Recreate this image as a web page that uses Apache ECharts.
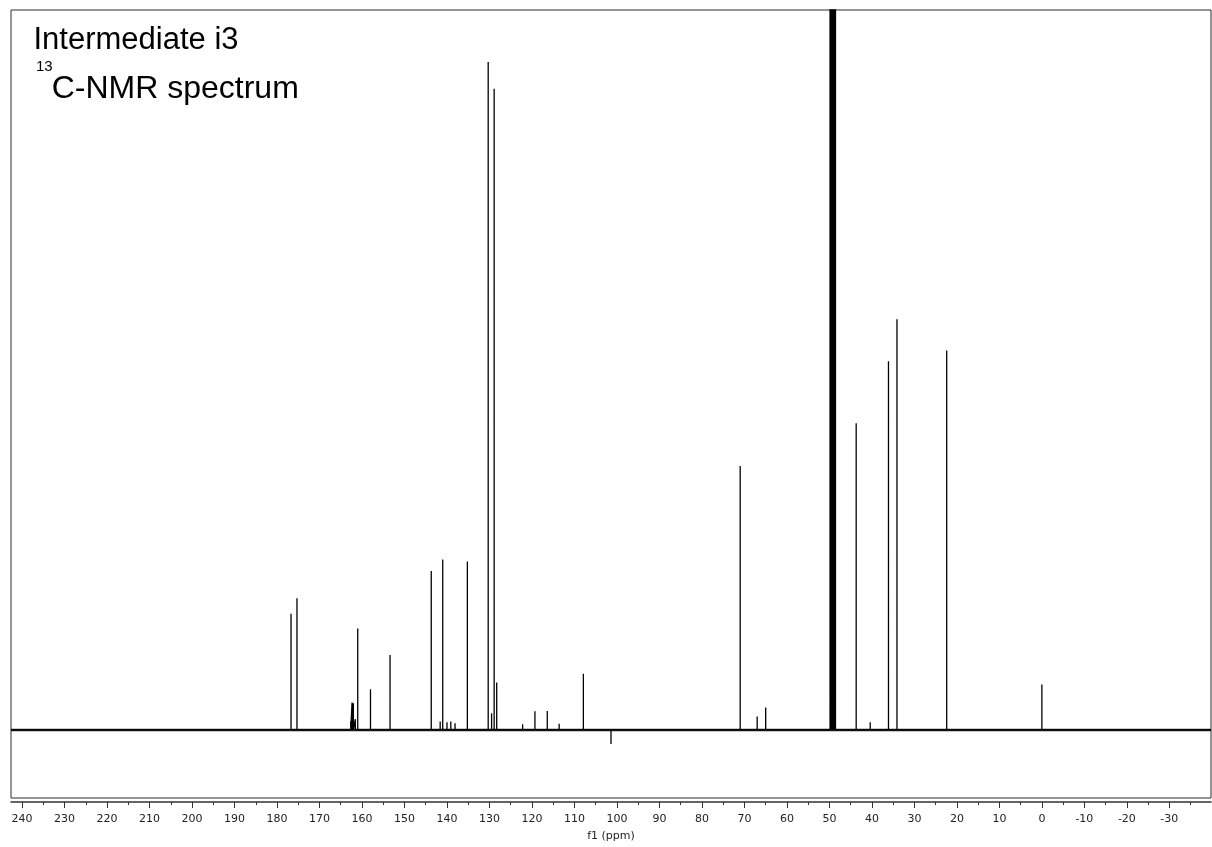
<!DOCTYPE html>
<html>
<head>
<meta charset="utf-8">
<title>Intermediate i3 13C-NMR</title>
<script src="https://cdn.jsdelivr.net/npm/echarts@6/dist/echarts.min.js"></script>
<style>
  html, body { margin: 0; padding: 0; background: #fff; }
  #chart { width: 1212px; height: 847px; }
</style>
</head>
<body>
<div id="chart"></div>
<script>
// Resolved signals: chemical shift (ppm) and relative intensity (130.3 ppm line = 100)
const peakPpm = [
  176.7, 175.3, 162.65, 162.34, 162.03, 161.56, 161.0, 158.0, 153.4,
  143.7, 141.6, 141.0, 140.0, 139.1, 138.1, 135.2, 130.3, 129.5, 128.9,
  128.3, 122.2, 119.3, 116.4, 113.6, 107.9, 101.4, 71.0, 67.0, 65.0,
  43.7, 40.4, 36.1, 34.1, 22.4, 0.0
];
const peakHeight = [
  17.4, 19.7, 1.3, 4.1, 4.0, 1.6, 15.2, 6.1, 11.2,
  23.8, 1.25, 25.5, 1.15, 1.25, 1.0, 25.2, 100, 2.5, 96.0,
  7.1, 0.85, 2.8, 2.84, 0.9, 8.4, -2.1, 39.5, 2.0, 3.35,
  45.9, 1.15, 55.2, 61.5, 56.8, 6.8
];

// CD3OD solvent septet (runs far off scale)
const solventPpm = [49.85, 49.64, 49.43, 49.21, 49.00, 48.79, 48.57];
const solventHeight = [150, 450, 900, 1050, 900, 450, 150];

// Axis ticks (ppm)
const majorTicks = [240, 230, 220, 210, 200, 190, 180, 170, 160, 150, 140, 130, 120, 110, 100,
                    90, 80, 70, 60, 50, 40, 30, 20, 10, 0, -10, -20, -30];
const minorTicks = [235, 225, 215, 205, 195, 185, 175, 165, 155, 145, 135, 125, 115, 105,
                    95, 85, 75, 65, 55, 45, 35, 25, 15, 5, -5, -15, -25, -35];

const ppmLeft = 242.6;
const ppmRight = -39.8;

// Each line is drawn as a stick rising from the baseline
const lines = [];
peakPpm.forEach((p, i) => lines.push([p, peakHeight[i]]));
solventPpm.forEach((p, i) => lines.push([p, solventHeight[i]]));
lines.sort((a, b) => b[0] - a[0]);

const trace = [[ppmLeft, 0]];
lines.forEach(([p, h]) => {
  trace.push([p, 0], [p, h], [p, 0]);
});
trace.push([ppmRight, 0]);

const axisFont = { fontFamily: 'DejaVu Sans', fontSize: 11, color: '#222' };
const titleFamily = '"Liberation Sans", Arial, sans-serif';

const chart = echarts.init(document.getElementById('chart'), null, { renderer: 'canvas' });
chart.setOption({
  animation: false,
  backgroundColor: '#fff',
  grid: {
    left: 11, right: 1, top: 10, bottom: 47,
    show: true, borderColor: '#2a2a2a', borderWidth: 1, backgroundColor: 'transparent'
  },
  graphic: [
    {
      type: 'text', x: 33.5, y: 40.0,
      style: { text: 'Intermediate i3', font: '31px ' + titleFamily,
               fill: '#000', verticalAlign: 'middle', textAlign: 'left' }
    },
    {
      type: 'text', x: 36, y: 67,
      style: { text: '13', font: '15px ' + titleFamily,
               fill: '#000', verticalAlign: 'middle', textAlign: 'left' }
    },
    {
      type: 'text', x: 51.7, y: 88.9,
      style: { text: 'C-NMR spectrum', font: '32px ' + titleFamily,
               fill: '#000', verticalAlign: 'middle', textAlign: 'left' }
    }
  ],
  xAxis: [
    {
      type: 'value', min: ppmRight, max: ppmLeft, inverse: true,
      position: 'bottom', offset: 4,
      axisLine: { show: true, onZero: false, lineStyle: { color: '#333', width: 1.5 } },
      axisTick: { show: true, customValues: majorTicks, length: 6, lineStyle: { color: '#333', width: 1 } },
      axisLabel: { show: true, customValues: majorTicks, margin: 12, ...axisFont,
                   formatter: v => String(v) },
      splitLine: { show: false },
      name: 'f1 (ppm)', nameLocation: 'middle', nameGap: 29,
      nameTextStyle: axisFont
    },
    {
      type: 'value', min: ppmRight, max: ppmLeft, inverse: true,
      position: 'bottom', offset: 4,
      axisLine: { show: false, onZero: false },
      axisTick: { show: true, customValues: minorTicks, length: 3, lineStyle: { color: '#333', width: 1 } },
      axisLabel: { show: false },
      splitLine: { show: false }
    }
  ],
  yAxis: {
    type: 'value', min: -10.2, max: 107.8, show: false,
    splitLine: { show: false }
  },
  series: [
    {
      name: 'baseline', type: 'line', xAxisIndex: 0,
      data: [[ppmLeft, 0], [ppmRight, 0]],
      symbol: 'none', silent: true, z: 1,
      lineStyle: { color: '#222', width: 2.5 }
    },
    {
      name: '13C', type: 'line', xAxisIndex: 0,
      data: trace, symbol: 'none', clip: true, z: 2,
      lineStyle: { color: '#000', width: 1.3 }
    }
  ]
});
</script>
</body>
</html>
